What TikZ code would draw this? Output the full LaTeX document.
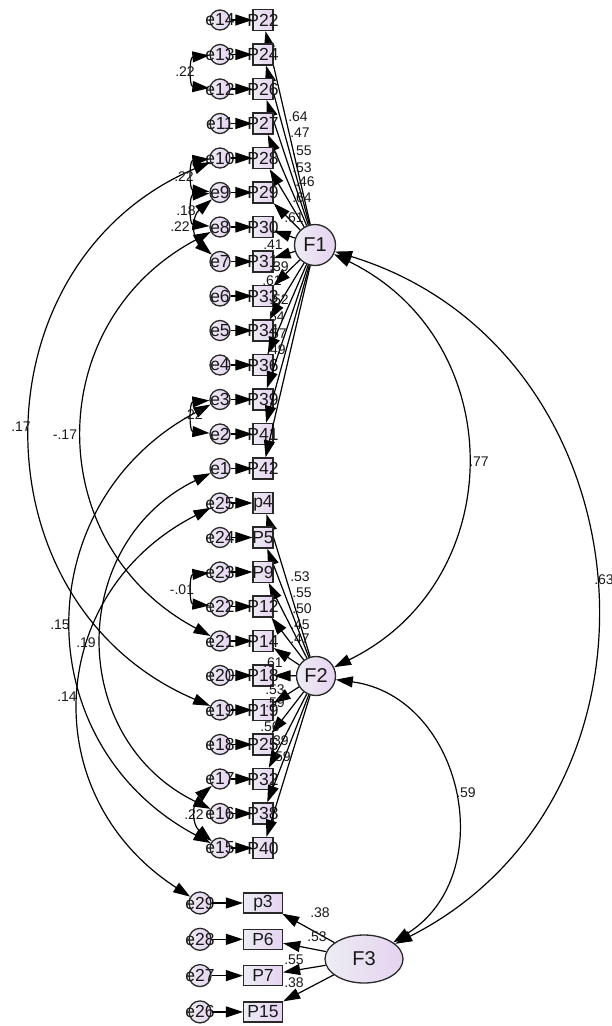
\documentclass[tikz,border=0pt]{standalone}
\usepackage{fontspec}
\setmainfont{Liberation Sans}
\usetikzlibrary{arrows.meta,shapes.geometric}
\definecolor{lav}{RGB}{229,211,240}
\definecolor{lavlight}{RGB}{237,236,243}
\definecolor{ink}{RGB}{25,25,25}
\definecolor{rim}{RGB}{40,40,40}
\newcommand{\namefont}{\fontsize{17.5}{19}\selectfont}
\newcommand{\numfont}{\fontsize{14}{16}\selectfont}

\begin{document}
\begin{tikzpicture}[x=1pt, y=-1pt,
  obs/.style={
    draw=rim, line width=1.3pt, left color=lavlight, right color=lav,
    minimum width=20pt, minimum height=21pt, inner sep=0pt,
    label={[font=\namefont, text=ink]center:#1}
  },
  obswide/.style={
    draw=rim, line width=1.3pt, left color=lavlight, right color=lav,
    minimum width=39pt, minimum height=20pt, inner sep=0pt,
    font=\namefont, text=ink
  },
  err/.style={
    circle, draw=rim, line width=1.3pt, left color=lavlight, right color=lav,
    minimum size=20pt, inner sep=0pt,
    label={[font=\namefont, text=ink]center:#1}
  },
  latent/.style={
    circle, draw=rim, line width=1.3pt, left color=lavlight, right color=lav,
    minimum size=41pt, inner sep=0pt,
    font=\fontsize{20}{22}\selectfont, text=ink
  },
  load/.style={-{Triangle[length=17pt,width=11pt]}, line width=1.2pt, draw=black},
  cov/.style={
    {Triangle[length=17pt,width=11pt]}-{Triangle[length=17pt,width=11pt]},
    line width=1.2pt, draw=black, bend right=67, looseness=1.22
  },
  covshort/.style={cov, bend right=85, looseness=1.6},
  num/.style={font=\numfont, text=ink, inner sep=0pt}
]
\useasboundingbox (0,0) rectangle (612,1026);

% Latent factors.
\node[latent] (F1) at (315,245) {F1};
\node[latent, minimum size=39pt] (F2) at (316,676) {F2};
\node[latent, ellipse, minimum width=78pt, minimum height=48pt] (F3) at (364,959) {F3};

% F1 indicators with their residuals.
\foreach \ind/\res/\w/\lx/\ly [count=\i from 0] in {
  P22/e14/.64/298/117, P24/e13/.47/300/133, P26/e12/.55/302/151,
  P27/e11/.53/302/168, P28/e10/.46/305/182, P29/e9/.64/302/198,
  P30/e8/.61/294/218, P31/e7/.41/273/245, P33/e6/.39/279/267,
  P34/e5/.61/272/281, P36/e4/.52/279/300, P39/e3/.54/275/317,
  P41/e2/.57/277/334, P42/e1/.49/276/350}
{
  \node[obs=\ind] (\ind) at (263,20+34.5*\i) {};
  \node[err=\res] (\res) at (220,20+34.5*\i) {};
  \draw[load] (\res) -- (\ind);
  \draw[load] (F1) -- (\ind);
  \node[num] (w\ind) at (\lx,\ly) {\w};
}

% F2 indicators with their residuals.
\foreach \ind/\res/\w/\lx/\ly [count=\i from 14] in {
  p4/e25/.53/300/577, P5/e24/.55/302/593, P9/e23/.50/302/609,
  P12/e22/.45/300/625, P14/e21/.47/300/639, P18/e20/.61/273/663,
  P19/e19/.53/275/690, P25/e18/.59/275/703, P32/e17/.56/270/727,
  P38/e16/.39/279/741, P40/e15/.59/281/757}
{
  \node[obs=\ind] (\ind) at (263,20+34.5*\i) {};
  \node[err=\res] (\res) at (220,20+34.5*\i) {};
  \draw[load] (\res) -- (\ind);
  \draw[load] (F2) -- (\ind);
  \node[num] (w\ind) at (\lx,\ly) {\w};
}

% F3 indicators.
\foreach \ind/\res/\w/\lx/\ly [count=\i from 0] in {
  p3/e29/.38/320/913, P6/e28/.53/317/937,
  P7/e27/.55/294/960, P15/e26/.38/294/983}
{
  \node[obswide] (\ind) at (263,903+36.3*\i) {\ind};
  \node[err=\res, minimum size=22pt] (\res) at (200,903+36.3*\i) {};
  \draw[load] (\res) -- (\ind);
  \draw[load] (F3) -- (\ind);
  \node[num] (w\ind) at (\lx,\ly) {\w};
}

% Residual covariances.
\draw[covshort] (e13) to (e12);
\draw[covshort] (e10) to (e9);
\draw[covshort] (e9) to (e8);
\draw[cov, bend right=50] (e9) to (e7);
\draw[covshort] (e3) to (e2);
\draw[covshort] (e23) to (e22);
\draw[cov, bend right=50] (e17) to (e15);
\draw[cov] (e10) to (e19);
\draw[cov, bend right=62] (e8) to (e21);
\draw[cov, bend right=62] (e3) to (e15);
\draw[cov, bend right=64] (e1) to (e16);
\draw[cov, bend right=60] (e25) to (e29);

% Factor covariances.
\draw[cov, bend left=64] (F1) to (F2);
\draw[cov, bend left=68] (F1) to (F3);
\draw[cov, bend left=70] (F2) to (F3);

\foreach \v/\lx/\ly [count=\k] in {
  .22/185/72, .22/184/177, .18/186/211, .22/180/227, .22/193/415,
  -.01/182/590, .22/194/815, .17/21/427, -.17/65/435, .15/60/625,
  .19/86/643, .14/67/697, .77/479/462, .63/604/580, .59/466/793}
  \node[num] (c\k) at (\lx,\ly) {\v};

\end{tikzpicture}
\end{document}
